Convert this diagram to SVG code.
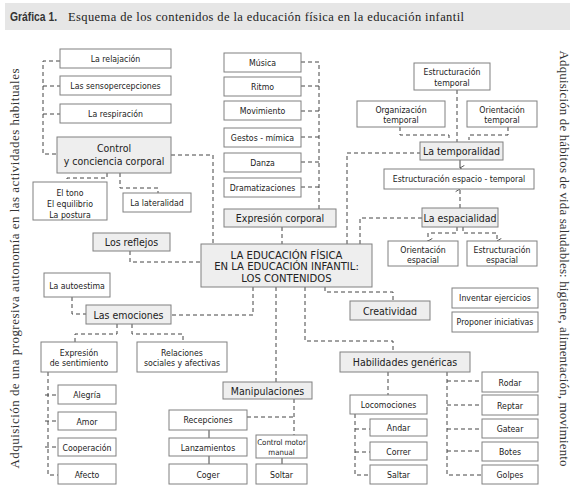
<svg xmlns="http://www.w3.org/2000/svg" width="578" height="492" viewBox="0 0 578 492">
<defs>
<style>
.b{fill:#fff;stroke:#808080;stroke-width:1}
.f{fill:#eeeeee;stroke:#808080;stroke-width:1}
.t{font-family:"DejaVu Sans","Liberation Sans",sans-serif;font-stretch:condensed;font-size:8.7px;fill:#222;text-anchor:middle}
.S{font-size:7.8px}
.L{font-size:10.5px}
.M{font-size:11.2px}
.c{fill:none;stroke:#444;stroke-width:1;stroke-dasharray:4 3}
.s{fill:none;stroke:#444;stroke-width:1}
.side{font-family:"Liberation Serif","DejaVu Serif",serif;font-size:13px;fill:#333;text-anchor:middle}
</style>
<marker id="ah" viewBox="0 0 8 8" refX="4" refY="7" markerWidth="7" markerHeight="7" markerUnits="userSpaceOnUse" orient="auto-start-reverse">
<path d="M1 2 L4 7 L7 2" fill="none" stroke="#444" stroke-width="1"/>
</marker>
</defs>
<rect x="0" y="0" width="578" height="492" fill="#fff"/>
<g id="title">
<rect x="5" y="3" width="565" height="27" fill="#e6e6e6"/>
<text x="10" y="21" font-family="Liberation Sans,sans-serif" font-weight="bold" font-size="12.5px" fill="#333" textLength="47" lengthAdjust="spacingAndGlyphs">Gráfica 1.</text>
<text x="68" y="21" font-family="Liberation Serif,serif" font-size="12.5px" fill="#222" textLength="396">Esquema de los contenidos de la educación física en la educación infantil</text>
</g>
<g id="side-left"><text class="side" transform="translate(19 268.5) rotate(-90)" textLength="400">Adquisición de una progresiva autonomía en las actividades habituales</text></g>
<g id="side-right"><text class="side" transform="translate(560 258.5) rotate(90)" textLength="416">Adquisición de hábitos de vida saludables: higiene, alimentación, movimiento</text></g>

<g id="connectors">
<path class="c" d="M60 61H43V154H57M43 86H60M43 114H60"/>
<path class="c" d="M171 155H213V244"/>
<path class="c" d="M107 173V178H67V182"/>
<path class="c" d="M120 173V188H158V193"/>
<path class="c" d="M130 251V262H201"/>
<path class="c" d="M301 62H319V209M301 86H319M301 111H319M301 137H319M301 162H319M301 187H319"/>
<path class="c" d="M282 227V244"/>
<path class="c" d="M457 90V142"/>
<path class="c" d="M400 127V135H449V140M508 127V135H469V140"/>
<path class="s" d="M460 160V168" marker-end="url(#ah)"/>
<path class="c" d="M460 208V189" marker-end="url(#ah)"/>
<path class="c" d="M347 244V153H420"/>
<path class="c" d="M360 244V218H422"/>
<path class="c" d="M457 227V233H428V241" marker-end="url(#ah)"/>
<path class="c" d="M463 227V233H497V241" marker-end="url(#ah)"/>
<path class="c" d="M325 287V292H393V301"/>
<path class="c" d="M305 287V341H393V352"/>
<path class="c" d="M276 287V382"/>
<path class="c" d="M253 287V315H171"/>
<path class="c" d="M72 297V314H86"/>
<path class="c" d="M117 324V334H75V342"/>
<path class="c" d="M132 324V334H183V342"/>
<path class="c" d="M48 372V475H58M45 395H58M45 421H58M45 447H58"/>
<path class="c" d="M294 399V435M247 417H294"/>
<path class="s" d="M209 430V438M209 456V464M282 458V464"/>
<path class="c" d="M388 372V395"/>
<path class="c" d="M355 414V475H370M355 429H370M355 452H370"/>
<path class="c" d="M447 372V475H482M447 381H482M447 405H482M447 429H482M447 451H482"/>
</g>

<g id="n-relajacion"><rect class="b" x="60" y="49" width="111" height="19"/><text class="t" x="115.5" y="62">La relajación</text></g>
<g id="n-senso"><rect class="b" x="60" y="76" width="111" height="19"/><text class="t" x="115.5" y="89">Las sensopercepciones</text></g>
<g id="n-respiracion"><rect class="b" x="60" y="104" width="111" height="19"/><text class="t" x="115.5" y="117">La respiración</text></g>
<g id="n-control"><rect class="f" x="57" y="137" width="114" height="36"/><text class="t L" x="114" y="152">Control</text><text class="t L" x="114" y="165">y conciencia corporal</text></g>
<g id="n-tono"><rect class="b" x="33" y="182" width="74" height="38"/><text class="t" x="70" y="196">El tono</text><text class="t" x="70" y="207">El equilibrio</text><text class="t" x="70" y="217.5">La postura</text></g>
<g id="n-lateralidad"><rect class="b" x="123" y="193" width="68" height="19"/><text class="t" x="157" y="206">La lateralidad</text></g>
<g id="n-reflejos"><rect class="f" x="93" y="233" width="77" height="18"/><text class="t L" x="131.5" y="246">Los reflejos</text></g>
<g id="n-main"><rect class="f" x="201" y="244" width="171" height="43"/><text class="t M" x="286.5" y="258.5">LA EDUCACIÓN FÍSICA</text><text class="t M" x="286.5" y="270">EN LA EDUCACIÓN INFANTIL:</text><text class="t M" x="286.5" y="281.5">LOS CONTENIDOS</text></g>
<g id="n-musica"><rect class="b" x="224" y="53" width="77" height="19"/><text class="t" x="262.5" y="66">Música</text></g>
<g id="n-ritmo"><rect class="b" x="224" y="77" width="77" height="19"/><text class="t" x="262.5" y="90">Ritmo</text></g>
<g id="n-movimiento"><rect class="b" x="224" y="101" width="77" height="19"/><text class="t" x="262.5" y="114">Movimiento</text></g>
<g id="n-gestos"><rect class="b" x="224" y="128" width="77" height="19"/><text class="t" x="262.5" y="141">Gestos - mímica</text></g>
<g id="n-danza"><rect class="b" x="224" y="153" width="77" height="19"/><text class="t" x="262.5" y="166">Danza</text></g>
<g id="n-dramatizaciones"><rect class="b" x="224" y="178" width="77" height="19"/><text class="t" x="262.5" y="191">Dramatizaciones</text></g>
<g id="n-expresion"><rect class="f" x="224" y="209" width="112" height="18"/><text class="t L" x="280" y="222">Expresión corporal</text></g>
<g id="n-estr-temporal"><rect class="b" x="414" y="63" width="76" height="27"/><text class="t" x="452" y="75">Estructuración</text><text class="t" x="452" y="85.5">temporal</text></g>
<g id="n-org-temporal"><rect class="b" x="357" y="101" width="88" height="26"/><text class="t" x="401" y="113">Organización</text><text class="t" x="401" y="123">temporal</text></g>
<g id="n-ori-temporal"><rect class="b" x="467" y="101" width="70" height="26"/><text class="t" x="502" y="113">Orientación</text><text class="t" x="502" y="123">temporal</text></g>
<g id="n-temporalidad"><rect class="f" x="420" y="142" width="83" height="18"/><text class="t L" x="461.5" y="155">La temporalidad</text></g>
<g id="n-espacio-temporal"><rect class="b" x="384" y="169" width="150" height="20"/><text class="t" x="459" y="182">Estructuración espacio - temporal</text></g>
<g id="n-espacialidad"><rect class="f" x="422" y="208" width="76" height="19"/><text class="t L" x="460" y="222">La espacialidad</text></g>
<g id="n-ori-espacial"><rect class="b" x="388" y="241" width="70" height="25"/><text class="t" x="423" y="253">Orientación</text><text class="t" x="423" y="263">espacial</text></g>
<g id="n-estr-espacial"><rect class="b" x="467" y="241" width="70" height="25"/><text class="t" x="502" y="253">Estructuración</text><text class="t" x="502" y="263">espacial</text></g>
<g id="n-inventar"><rect class="b" x="452" y="288" width="86" height="20"/><text class="t" x="495" y="301">Inventar ejercicios</text></g>
<g id="n-proponer"><rect class="b" x="452" y="312" width="86" height="20"/><text class="t" x="495" y="325">Proponer iniciativas</text></g>
<g id="n-creatividad"><rect class="f" x="350" y="301" width="80" height="19"/><text class="t L" x="390" y="314.5">Creatividad</text></g>
<g id="n-habilidades"><rect class="f" x="340" y="352" width="130" height="20"/><text class="t L" x="405" y="366">Habilidades genéricas</text></g>
<g id="n-autoestima"><rect class="b" x="44" y="273" width="66" height="24"/><text class="t" x="77" y="288.5">La autoestima</text></g>
<g id="n-emociones"><rect class="f" x="86" y="305" width="85" height="19"/><text class="t L" x="128.5" y="318.5">Las emociones</text></g>
<g id="n-expr-sent"><rect class="b" x="41" y="342" width="76" height="30"/><text class="t" x="79" y="356">Expresión</text><text class="t" x="79" y="365.5">de sentimiento</text></g>
<g id="n-relaciones"><rect class="b" x="137" y="342" width="90" height="30"/><text class="t" x="182" y="356">Relaciones</text><text class="t" x="182" y="365.5">sociales y afectivas</text></g>
<g id="n-alegria"><rect class="b" x="58" y="385" width="58" height="19"/><text class="t" x="87" y="398">Alegría</text></g>
<g id="n-amor"><rect class="b" x="58" y="412" width="58" height="18"/><text class="t" x="87" y="424.5">Amor</text></g>
<g id="n-cooperacion"><rect class="b" x="58" y="438" width="58" height="18"/><text class="t" x="87" y="450.5">Cooperación</text></g>
<g id="n-afecto"><rect class="b" x="58" y="464" width="58" height="20"/><text class="t" x="87" y="477.5">Afecto</text></g>
<g id="n-manipulaciones"><rect class="f" x="223" y="382" width="89" height="17"/><text class="t L" x="267.5" y="394.5">Manipulaciones</text></g>
<g id="n-recepciones"><rect class="b" x="169" y="410" width="78" height="20"/><text class="t" x="208" y="423">Recepciones</text></g>
<g id="n-lanzamientos"><rect class="b" x="169" y="438" width="78" height="18"/><text class="t" x="208" y="450.5">Lanzamientos</text></g>
<g id="n-coger"><rect class="b" x="169" y="464" width="78" height="20"/><text class="t" x="208" y="477.5">Coger</text></g>
<g id="n-control-motor"><rect class="b" x="256" y="435" width="51" height="23"/><text class="t S" x="281.5" y="445">Control motor</text><text class="t S" x="281.5" y="454.5">manual</text></g>
<g id="n-soltar"><rect class="b" x="256" y="464" width="51" height="20"/><text class="t" x="281.5" y="477.5">Soltar</text></g>
<g id="n-locomociones"><rect class="b" x="350" y="395" width="77" height="19"/><text class="t" x="388.5" y="408">Locomociones</text></g>
<g id="n-andar"><rect class="b" x="370" y="419" width="57" height="17"/><text class="t" x="398.5" y="431">Andar</text></g>
<g id="n-correr"><rect class="b" x="370" y="442" width="57" height="18"/><text class="t" x="398.5" y="454.5">Correr</text></g>
<g id="n-saltar"><rect class="b" x="370" y="465" width="57" height="19"/><text class="t" x="398.5" y="478">Saltar</text></g>
<g id="n-rodar"><rect class="b" x="482" y="372" width="56" height="20"/><text class="t" x="510" y="385.5">Rodar</text></g>
<g id="n-reptar"><rect class="b" x="482" y="395" width="56" height="20"/><text class="t" x="510" y="408.5">Reptar</text></g>
<g id="n-gatear"><rect class="b" x="482" y="419" width="56" height="19"/><text class="t" x="510" y="432">Gatear</text></g>
<g id="n-botes"><rect class="b" x="482" y="442" width="56" height="19"/><text class="t" x="510" y="455">Botes</text></g>
<g id="n-golpes"><rect class="b" x="482" y="465" width="56" height="19"/><text class="t" x="510" y="478">Golpes</text></g>
</svg>
